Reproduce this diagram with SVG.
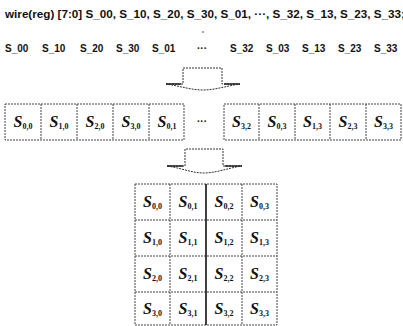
<svg xmlns="http://www.w3.org/2000/svg" width="403" height="326" viewBox="0 0 403 326">
<style>
.code{font-family:"Liberation Sans",Arial,sans-serif;font-weight:bold;font-size:10px;fill:#111}
.lbl{font-family:"Liberation Serif","Times New Roman",serif;font-weight:bold;font-style:italic;font-size:16px;fill:#111;text-anchor:middle}
.sub{font-size:8px;font-style:normal}
.cell{fill:none;stroke:#444;stroke-width:1;stroke-dasharray:2 1}
.arrow{fill:#fff;stroke:#333;stroke-width:1;stroke-dasharray:2 1}
.wing{stroke:#222;stroke-width:1.5;fill:none}
.thick{stroke:#111;stroke-width:1.6}
</style>
<rect width="403" height="326" fill="#fff"/>
<g id="header">
<text class="code" x="5" y="18" textLength="400" lengthAdjust="spacingAndGlyphs">wire(reg) [7:0] S_00, S_10, S_20, S_30, S_01, ···, S_32, S_13, S_23, S_33;</text>
<circle cx="203" cy="32" r="0.8" fill="#333"/>
<g class="code">
<text x="5" y="52">S_00</text>
<text x="42" y="52">S_10</text>
<text x="80" y="52">S_20</text>
<text x="116" y="52">S_30</text>
<text x="152" y="52">S_01</text>
<text x="197" y="52">···</text>
<text x="230" y="52">S_32</text>
<text x="266" y="52">S_03</text>
<text x="302" y="52">S_13</text>
<text x="338" y="52">S_23</text>
<text x="374" y="52">S_33</text>
</g>
</g>
<g id="connectors">
<path class="arrow" d="M166,84 L183,84 L183,68 L222,68 L222,84 L240,84 C226,86 215,90 203,90 C191,90 180,86 166,84 Z"/>
<path class="wing" d="M166,84 L181,84 M224,84 L240,84"/>
<path class="arrow" d="M167,166 L185,166 L185,149 L223,149 L223,166 L242,166 C228,168 216,173 204,173 C192,173 181,168 167,166 Z"/>
<path class="wing" d="M167,166 L183,166 M225,166 L242,166"/>
</g>
<g id="row-left">
<rect class="cell" x="5" y="104" width="179" height="36"/>
<path class="cell" d="M41,104V140M77,104V140M113,104V140M149,104V140"/>
<text class="lbl" x="23" y="127">S<tspan class="sub" dy="2">0,0</tspan></text>
<text class="lbl" x="59" y="127">S<tspan class="sub" dy="2">1,0</tspan></text>
<text class="lbl" x="95" y="127">S<tspan class="sub" dy="2">2,0</tspan></text>
<text class="lbl" x="131" y="127">S<tspan class="sub" dy="2">3,0</tspan></text>
<text class="lbl" x="167" y="127">S<tspan class="sub" dy="2">0,1</tspan></text>
</g>
<g id="ellipsis">
<text class="code" x="197" y="125">···</text>
</g>
<g id="row-right">
<rect class="cell" x="224" y="104" width="177" height="36"/>
<path class="cell" d="M259,104V140M295,104V140M330,104V140M366,104V140"/>
<text class="lbl" x="241.5" y="127">S<tspan class="sub" dy="2">3,2</tspan></text>
<text class="lbl" x="277" y="127">S<tspan class="sub" dy="2">0,3</tspan></text>
<text class="lbl" x="312.5" y="127">S<tspan class="sub" dy="2">1,3</tspan></text>
<text class="lbl" x="348" y="127">S<tspan class="sub" dy="2">2,3</tspan></text>
<text class="lbl" x="383.5" y="127">S<tspan class="sub" dy="2">3,3</tspan></text>
</g>
<g id="grid">
<rect class="cell" x="135" y="184" width="142" height="141"/>
<path class="cell" d="M170,184V325M242,184V325M135,220H277M135,256H277M135,292H277"/>
<path class="thick" d="M206,184V325"/>
<text class="lbl" x="152.5" y="207">S<tspan class="sub" dy="2">0,0</tspan></text>
<text class="lbl" x="188" y="207">S<tspan class="sub" dy="2">0,1</tspan></text>
<text class="lbl" x="224" y="207">S<tspan class="sub" dy="2">0,2</tspan></text>
<text class="lbl" x="259.5" y="207">S<tspan class="sub" dy="2">0,3</tspan></text>
<text class="lbl" x="152.5" y="243">S<tspan class="sub" dy="2">1,0</tspan></text>
<text class="lbl" x="188" y="243">S<tspan class="sub" dy="2">1,1</tspan></text>
<text class="lbl" x="224" y="243">S<tspan class="sub" dy="2">1,2</tspan></text>
<text class="lbl" x="259.5" y="243">S<tspan class="sub" dy="2">1,3</tspan></text>
<text class="lbl" x="152.5" y="279">S<tspan class="sub" dy="2">2,0</tspan></text>
<text class="lbl" x="188" y="279">S<tspan class="sub" dy="2">2,1</tspan></text>
<text class="lbl" x="224" y="279">S<tspan class="sub" dy="2">2,2</tspan></text>
<text class="lbl" x="259.5" y="279">S<tspan class="sub" dy="2">2,3</tspan></text>
<text class="lbl" x="152.5" y="314">S<tspan class="sub" dy="2">3,0</tspan></text>
<text class="lbl" x="188" y="314">S<tspan class="sub" dy="2">3,1</tspan></text>
<text class="lbl" x="224" y="314">S<tspan class="sub" dy="2">3,2</tspan></text>
<text class="lbl" x="259.5" y="314">S<tspan class="sub" dy="2">3,3</tspan></text>
</g>
</svg>
